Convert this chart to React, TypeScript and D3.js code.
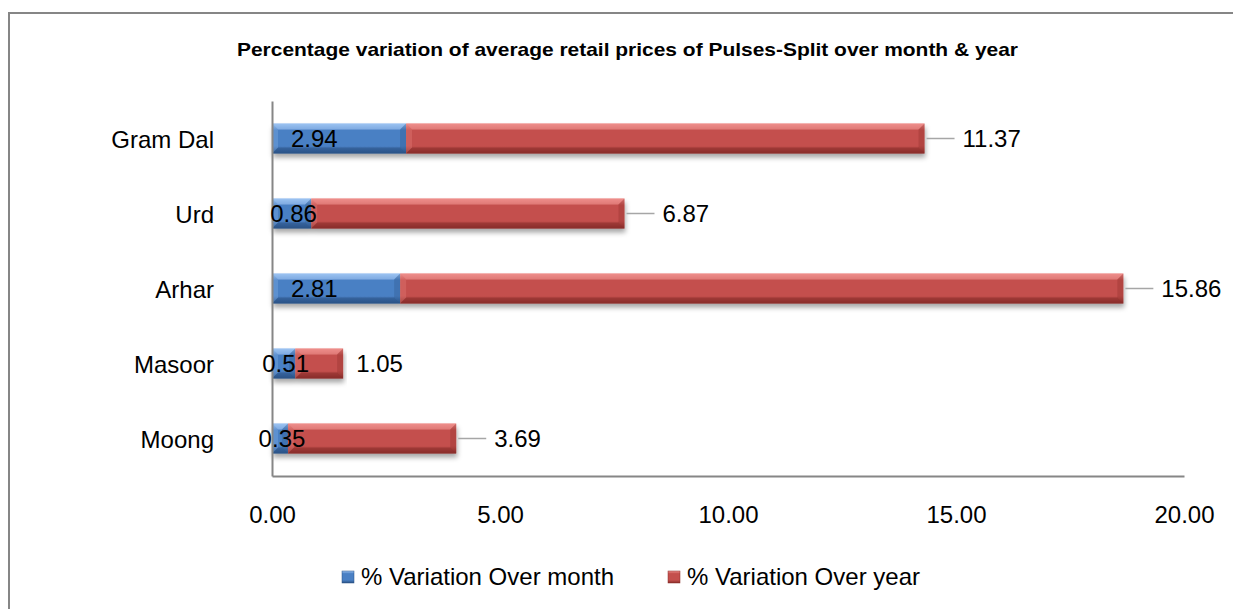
import React, { useEffect, useRef } from "react";
import * as d3 from "d3";

const categories = ["Gram Dal", "Urd", "Arhar", "Masoor", "Moong"];
const overMonth = [2.94, 0.86, 2.81, 0.51, 0.35];
const overYear = [11.37, 6.87, 15.86, 1.05, 3.69];
const seriesNames = ["% Variation Over month", "% Variation Over year"];
const xTicks = [0, 5, 10, 15, 20];

const W = 1233;
const H = 609;
const FONT = "'Liberation Sans', Arial, sans-serif";

const palette = [
  { base: "#4a80c4", light: "#9cc3f2", dark: "#2a5285", id: "blue" },
  { base: "#c4504d", light: "#ee8f8c", dark: "#882c29", id: "red" },
];

const App = () => {
  const svgRef = useRef<SVGSVGElement>(null);

  useEffect(() => {
    const svg = d3.select(svgRef.current);
    svg.selectAll("*").remove();

    const x = d3.scaleLinear().domain([0, 20]).range([272, 1184]);
    const y = d3.scaleBand().domain(categories).range([101, 476]).paddingInner(0.6).paddingOuter(0.3);

    const defs = svg.append("defs");
    palette.forEach((c) => {
      const g = defs.append("linearGradient").attr("id", "g-" + c.id).attr("x1", 0).attr("x2", 0).attr("y1", 0).attr("y2", 1);
      g.append("stop").attr("offset", "0%").attr("stop-color", c.light);
      g.append("stop").attr("offset", "22%").attr("stop-color", c.base);
      g.append("stop").attr("offset", "75%").attr("stop-color", c.base);
      g.append("stop").attr("offset", "100%").attr("stop-color", c.dark);
    });
    const f = defs.append("filter").attr("id", "shadow").attr("x", "-5%").attr("y", "-30%").attr("width", "110%").attr("height", "180%");
    f.append("feDropShadow").attr("dx", 1).attr("dy", 4).attr("stdDeviation", 2.5).attr("flood-color", "#000").attr("flood-opacity", 0.35);

    // outer frame
    svg.append("rect").attr("x", 9).attr("y", 13).attr("width", W).attr("height", H)
      .attr("fill", "#fff").attr("stroke", "#868686").attr("stroke-width", 2);

    svg.append("text").attr("x", 237).attr("y", 56)
      .attr("font-family", FONT).attr("font-weight", "bold").attr("font-size", 19)
      .attr("textLength", 781).attr("lengthAdjust", "spacingAndGlyphs")
      .text("Percentage variation of average retail prices of Pulses-Split over month & year");

    const rows = categories.map((c, i) => ({ cat: c, vals: [overMonth[i], overYear[i]] }));
    const bh = y.bandwidth();
    const bev = 6;

    rows.forEach((r) => {
      const y0 = y(r.cat)!;
      let start = 0;
      const grp = svg.append("g").attr("filter", "url(#shadow)");
      const segs = r.vals.map((v, k) => {
        const s = { k, a: x(start), b: x(start + v) };
        start += v;
        return s;
      });
      segs.forEach((s) => {
        const c = palette[s.k];
        grp.append("rect").attr("x", s.a).attr("y", y0).attr("width", s.b - s.a).attr("height", bh)
          .attr("fill", `url(#g-${c.id})`);
      });
      segs.forEach((s) => {
        const c = palette[s.k];
        const e = Math.min(bev, (s.b - s.a) / 2);
        svg.append("polygon")
          .attr("points", `${s.a},${y0} ${s.b},${y0} ${s.b - e},${y0 + bev} ${s.a + e},${y0 + bev}`)
          .attr("fill", c.light).attr("opacity", 0.6);
        svg.append("polygon")
          .attr("points", `${s.a},${y0 + bh} ${s.b},${y0 + bh} ${s.b - e},${y0 + bh - bev} ${s.a + e},${y0 + bh - bev}`)
          .attr("fill", c.dark).attr("opacity", 0.5);
        svg.append("polygon")
          .attr("points", `${s.b},${y0} ${s.b},${y0 + bh} ${s.b - e},${y0 + bh - bev} ${s.b - e},${y0 + bev}`)
          .attr("fill", c.dark).attr("opacity", 0.3);
        svg.append("polygon")
          .attr("points", `${s.a},${y0} ${s.a},${y0 + bh} ${s.a + e},${y0 + bh - bev} ${s.a + e},${y0 + bev}`)
          .attr("fill", c.light).attr("opacity", 0.25);
      });
    });

    // axes
    const xAxis = svg.append("g").attr("transform", "translate(0,476)")
      .call(d3.axisBottom(x).tickValues(xTicks).tickSize(0).tickPadding(30).tickFormat(d3.format(".2f")));
    xAxis.select(".domain").attr("stroke", "#868686").attr("stroke-width", 2);
    xAxis.selectAll("text").attr("font-family", FONT).attr("font-size", 24).attr("fill", "#000");

    const yAxis = svg.append("g").attr("transform", "translate(272,0)")
      .call(d3.axisLeft(y).tickSize(0).tickPadding(58));
    yAxis.select(".domain").attr("stroke", "#868686").attr("stroke-width", 2);
    yAxis.selectAll("text").attr("font-family", FONT).attr("font-size", 24).attr("fill", "#000").attr("dy", "0.4em");

    // labels
    rows.forEach((r) => {
      const cy = y(r.cat)! + bh / 2 + 8;
      const mEnd = x(r.vals[0]);
      const w = mEnd - x(0);
      const mt = svg.append("text").attr("y", cy).attr("font-family", FONT).attr("font-size", 24)
        .text(r.vals[0].toFixed(2));
      if (w > 70) mt.attr("x", x(0) + 19);
      else mt.attr("x", x(0) + w / 2 + 2).attr("text-anchor", "middle");

      const end = x(r.vals[0] + r.vals[1]);
      if (r.vals[1] > 2) {
        svg.append("line").attr("x1", end + 2).attr("x2", end + 30).attr("y1", cy - 8).attr("y2", cy - 8)
          .attr("stroke", "#a6a6a6").attr("stroke-width", 1.5);
        svg.append("text").attr("x", end + 38).attr("y", cy).attr("font-family", FONT).attr("font-size", 24)
          .text(r.vals[1].toFixed(2));
      } else {
        svg.append("text").attr("x", end + 13).attr("y", cy).attr("font-family", FONT).attr("font-size", 24)
          .text(r.vals[1].toFixed(2));
      }
    });

    // legend
    const legX = [342, 668];
    seriesNames.forEach((n, k) => {
      const c = palette[k];
      svg.append("rect").attr("x", legX[k]).attr("y", 571).attr("width", 12).attr("height", 12)
        .attr("fill", `url(#g-${c.id})`).attr("stroke", c.dark).attr("stroke-width", 0.5);
      svg.append("text").attr("x", legX[k] + 19).attr("y", 585).attr("font-family", FONT).attr("font-size", 24)
        .text(n);
    });
  }, []);

  return (
    <svg ref={svgRef} width={W} height={H}
      style={{ position: "fixed", left: 0, top: 0, background: "#fff" }} />
  );
};

export default App;
